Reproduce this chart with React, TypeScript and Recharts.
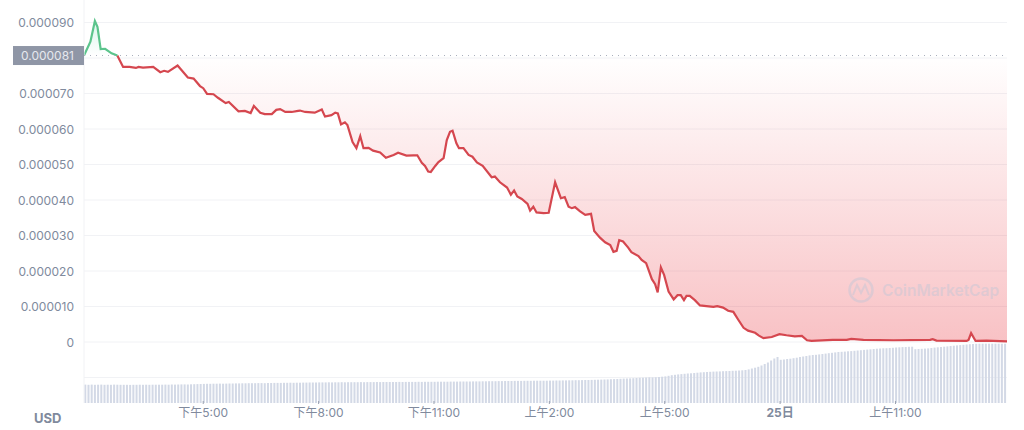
import React from "react";
import {
  ComposedChart,
  Area,
  Bar,
  XAxis,
  YAxis,
  CartesianGrid,
  ReferenceLine,
} from "recharts";

// minutes after the start of the window (13:54)
const minutes = [
  0, 10, 17, 21, 26, 33, 43, 52, 61, 71, 81, 85, 92, 108, 119, 125, 131, 146, 162, 171, 181, 186, 192, 202, 209, 221, 226, 241, 251, 260, 265, 275,
  282, 293, 300, 306, 314, 324, 334, 337, 345, 360, 371, 376, 386, 392, 396, 401, 407, 411, 419, 425, 431, 436, 444, 451, 462, 471, 483, 490, 503, 514,
  520, 527, 532, 537, 541, 548, 553, 561, 566, 571, 575, 581, 585, 592, 600, 606, 613, 622, 636, 641, 649, 660, 666, 671, 676, 683, 692, 696, 701, 706,
  717, 725, 735, 744, 750, 756, 761, 766, 774, 782, 791, 796, 805, 813, 821, 826, 831, 835, 841, 849, 854, 865, 870, 877, 886, 891, 895, 900, 905, 912,
  920, 926, 931, 936, 940, 945, 953, 961, 971, 982, 988, 997, 1005, 1013, 1021, 1029, 1036, 1047, 1053, 1060, 1073, 1085, 1096, 1109, 1120, 1128, 1135,
  1168, 1190, 1197, 1216, 1263, 1320, 1324, 1330, 1377, 1380, 1384, 1391, 1408, 1440,
];

// price in millionths of a USD
const prices = [
  80.7, 84.6, 90.4, 88.8, 82.5, 82.6, 81.3, 80.7, 77.5, 77.5, 77.2, 77.5, 77.3, 77.5, 76.0, 76.4, 76.1, 77.9, 74.5, 74.2, 72.1, 71.5, 69.9, 69.8, 68.8, 67.3, 67.6, 65.0, 65.1, 64.5, 66.5, 64.6,
  64.2, 64.2, 65.4, 65.6, 64.8, 64.8, 65.1, 65.2, 64.8, 64.6, 65.5, 63.5, 63.9, 64.6, 64.4, 61.3, 61.9, 61.1, 56.3, 54.6, 58.0, 54.6, 54.7, 53.9, 53.4, 51.9, 52.7, 53.3, 52.5, 52.6,
  52.6, 50.5, 49.6, 48.0, 47.9, 49.6, 50.7, 51.8, 56.9, 59.2, 59.5, 56.0, 54.6, 54.6, 52.7, 52.2, 50.6, 49.6, 46.4, 46.6, 45.0, 43.5, 41.5, 42.7, 41.0, 40.3, 38.9, 37.0, 38.1, 36.5,
  36.3, 36.4, 45.0, 40.5, 40.8, 38.1, 37.7, 38.0, 36.8, 35.8, 36.1, 31.3, 29.4, 28.1, 27.3, 25.4, 25.7, 28.7, 28.3, 26.6, 25.3, 24.2, 23.1, 22.2, 17.7, 16.3, 14.0, 21.0, 18.9, 14.2,
  12.0, 13.2, 13.2, 11.8, 13.0, 13.0, 11.8, 10.3, 10.1, 9.9, 10.1, 9.7, 8.8, 8.5, 6.2, 4.0, 3.2, 2.6, 1.8, 1.1, 1.4, 2.2, 1.9, 1.6, 1.7, 0.5, 0.3,
  0.6, 0.6, 0.9, 0.6, 0.5, 0.6, 0.8, 0.4, 0.3, 0.6, 2.5, 0.3, 0.4, 0.2,
];

const OPEN_PRICE = 80.7;
const GREEN_END = 52;

// one bar per 5 minutes, 12 per hour
const volumes = [
  18.4, 18.2, 18.4, 18.2, 18.3, 18.4, 18.2, 18.3, 18.2, 18.4, 18.3, 18.2,
  18.2, 18.2, 18.1, 18.2, 18.2, 18.3, 18.2, 18.3, 18.2, 18.3, 18.3, 18.3,
  18.3, 18.4, 18.3, 18.5, 18.4, 18.5, 18.6, 18.6, 18.5, 18.7, 18.8, 18.9,
  19.0, 19.1, 19.2, 19.2, 19.3, 19.3, 19.4, 19.3, 19.4, 19.5, 19.5, 19.6,
  19.6, 19.7, 19.7, 19.8, 19.8, 19.8, 19.9, 19.9, 19.8, 20.0, 20.0, 20.1,
  20.1, 20.1, 20.2, 20.2, 20.3, 20.2, 20.3, 20.3, 20.4, 20.4, 20.5, 20.5,
  20.5, 20.6, 20.6, 20.6, 20.7, 20.6, 20.7, 20.7, 20.8, 20.7, 20.8, 20.8,
  20.8, 20.8, 20.9, 20.8, 20.9, 20.9, 20.9, 21.0, 20.9, 21.0, 21.0, 21.0,
  21.0, 21.0, 21.1, 21.0, 21.1, 21.1, 21.1, 21.1, 21.2, 21.1, 21.2, 21.2,
  21.2, 21.2, 21.3, 21.3, 21.3, 21.3, 21.4, 21.4, 21.4, 21.5, 21.5, 21.5,
  21.5, 21.6, 21.6, 21.6, 21.7, 21.7, 21.8, 21.8, 21.8, 21.9, 21.9, 22.0,
  22.0, 22.0, 22.1, 22.1, 22.1, 22.2, 22.2, 22.2, 22.3, 22.3, 22.3, 22.3,
  22.3, 22.4, 22.4, 22.5, 22.5, 22.6, 22.6, 22.7, 22.7, 22.8, 22.8, 22.9,
  23.0, 23.0, 23.1, 23.2, 23.3, 23.4, 23.5, 23.6, 23.8, 23.9, 24.0, 24.2,
  24.4, 24.5, 24.6, 24.8, 25.0, 25.2, 25.3, 25.5, 25.7, 25.6, 25.8, 26.0,
  26.3, 26.6, 27.2, 27.8, 28.2, 28.6, 28.9, 29.2, 29.5, 29.7, 30.0, 30.3,
  30.6, 30.8, 31.0, 31.2, 31.4, 31.5, 31.6, 31.8, 31.9, 32.0, 32.2, 32.3,
  32.5, 32.7, 33.0, 33.6, 34.5, 35.3, 36.2, 37.5, 39.0, 40.5, 42.5, 44.5,
  46.0, 43.2, 43.5, 44.0, 44.3, 44.8, 45.3, 46.0, 46.5, 47.0, 47.6, 48.0,
  48.2, 48.6, 49.0, 49.4, 49.8, 50.2, 50.6, 51.0, 51.2, 51.4, 51.7, 51.9,
  52.2, 52.5, 52.8, 53.1, 53.4, 53.7, 54.0, 54.3, 54.5, 54.7, 54.8, 55.0,
  55.2, 55.5, 55.7, 55.9, 56.0, 56.2, 56.3, 53.8, 54.0, 54.2, 54.4, 54.6,
  55.0, 55.4, 55.7, 56.0, 56.3, 56.6, 57.0, 57.3, 57.6, 57.9, 58.2, 58.5,
  58.8, 59.0, 59.2, 59.3, 59.3, 59.3, 59.3, 59.3, 59.3, 59.3, 59.3, 59.3,
];

const priceTicks = [0, 10, 20, 30, 40, 50, 60, 70, 80.7, 90];
const gridValues = [-10, 0, 10, 20, 30, 40, 50, 60, 70, 80, 90];
const timeTicks = [186, 366, 546, 726, 906, 1086, 1266];
const timeLabels = ["下午5:00", "下午8:00", "下午11:00", "上午2:00", "上午5:00", "25日", "上午11:00"];

type Row = { t: number; green?: number; red?: number; volume?: number };
const rowsByTime = new Map<number, Row>();
const rowAt = (t: number): Row => {
  if (!rowsByTime.has(t)) rowsByTime.set(t, { t });
  return rowsByTime.get(t) as Row;
};
minutes.forEach((t, i) => {
  const row = rowAt(t);
  if (t <= GREEN_END) row.green = prices[i];
  if (t >= GREEN_END) row.red = prices[i];
});
volumes.forEach((v, i) => {
  rowAt(i * 5 + 2).volume = v;
});
const rows = Array.from(rowsByTime.values()).sort((a, b) => a.t - b.t);

const FONT = "Inter, 'Noto Sans CJK SC', sans-serif";

const PriceTick = (props: any) => {
  const { x, y, payload } = props;
  const v = payload.value;
  if (v === OPEN_PRICE) {
    return (
      <g>
        <rect x={13} y={y - 9.5} width={71} height={19} fill="#8f96a6" />
        <text x={x} y={y + 4.5} textAnchor="end" fontSize={12} fontFamily={FONT} fill="#e6e8ee">
          {(v / 1e6).toFixed(6)}
        </text>
      </g>
    );
  }
  return (
    <text x={x} y={y + 4.5} textAnchor="end" fontSize={12} fontFamily={FONT} fill="#808a9d">
      {v === 0 ? "0" : (v / 1e6).toFixed(6)}
    </text>
  );
};

const TimeTick = (props: any) => {
  const { x, y, payload, index } = props;
  const label = timeLabels[index] ?? timeLabels[timeTicks.indexOf(payload.value)];
  const isDay = label === "25日";
  return (
    <g>
      <line x1={x} x2={x} y1={y - 8} y2={y - 5} stroke="#9aa1b0" strokeWidth={1} />
      <text
        x={x}
        y={y + 8}
        textAnchor="middle"
        fontSize={12}
        fontWeight={isDay ? 700 : 400}
        fontFamily={FONT}
        fill="#808a9d"
      >
        {label}
      </text>
    </g>
  );
};

const VolumeBar = (props: any) => {
  const { x, y, width, height } = props;
  if (!height || height <= 0) return null;
  return <rect x={x + width / 2 - 1} y={y} width={2} height={height} fill="#d3d9e6" />;
};

export default function App() {
  return (
    <div style={{ position: "absolute", left: 0, top: 0, width: 1024, height: 430, background: "#fff" }}>
      <ComposedChart
        width={1024}
        height={430}
        data={rows}
        margin={{ top: 0, right: 17, bottom: 0, left: 0 }}
      >
        <defs>
          <linearGradient id="redFill" x1="0" y1="0" x2="0" y2="1">
            <stop offset="0%" stopColor="#ea3943" stopOpacity={0} />
            <stop offset="100%" stopColor="#ea3943" stopOpacity={0.31} />
          </linearGradient>
          <linearGradient id="greenFill" x1="0" y1="0" x2="0" y2="1">
            <stop offset="0%" stopColor="#16c784" stopOpacity={0.16} />
            <stop offset="100%" stopColor="#16c784" stopOpacity={0} />
          </linearGradient>
        </defs>
        <CartesianGrid vertical={false} stroke="#f1f2f5" horizontalValues={gridValues} yAxisId="price" />
        <XAxis
          dataKey="t"
          type="number"
          domain={[0, 1440]}
          ticks={timeTicks}
          interval={0}
          height={27}
          axisLine={false}
          tickLine={false}
          tickMargin={0}
          tick={<TimeTick />}
        />
        <YAxis
          yAxisId="price"
          width={84}
          domain={[-17.18, 96.34]}
          allowDataOverflow
          ticks={priceTicks}
          interval={0}
          axisLine={false}
          tickLine={false}
          tickSize={0}
          tickMargin={10}
          tick={<PriceTick />}
        />
        <YAxis yAxisId="vol" hide domain={[0, 403]} allowDataOverflow />
        <ReferenceLine yAxisId="price" x={0} stroke="#f1f2f5" />
        <Bar yAxisId="vol" dataKey="volume" shape={<VolumeBar />} fill="#d3d9e6" isAnimationActive={false} />
        <Area
          yAxisId="price"
          type="linear"
          dataKey="red"
          baseValue={OPEN_PRICE}
          connectNulls
          stroke="#d5474f"
          strokeWidth={2.2}
          fill="url(#redFill)"
          fillOpacity={1}
          dot={false}
          activeDot={false}
          isAnimationActive={false}
        />
        <Area
          yAxisId="price"
          type="linear"
          dataKey="green"
          baseValue={OPEN_PRICE}
          connectNulls
          stroke="#5cc48c"
          strokeWidth={2.2}
          fill="url(#greenFill)"
          fillOpacity={1}
          dot={false}
          activeDot={false}
          isAnimationActive={false}
        />
        <ReferenceLine yAxisId="price" y={OPEN_PRICE} stroke="#a9afbc" strokeDasharray="1 5" strokeWidth={1} />
      </ComposedChart>
      <div
        style={{
          position: "absolute",
          left: 34,
          top: 410,
          fontFamily: FONT,
          fontSize: 13,
          fontWeight: 700,
          color: "#808a9d",
          lineHeight: "16px",
        }}
      >
        USD
      </div>
      <svg width={1024} height={430} style={{ position: "absolute", left: 0, top: 0, pointerEvents: "none" }}>
        <g opacity={0.4}>
          <circle cx={861} cy={290} r={11.5} fill="none" stroke="#b9c6d8" strokeWidth={2.5} />
          <path d="M853 295 L857 285 L861 293 L865 285 L869 295" fill="none" stroke="#b9c6d8" strokeWidth={2} />
          <text x={882} y={296} fontSize={15.5} fontWeight={600} fontFamily={FONT} fill="#b9c6d8">
            CoinMarketCap
          </text>
        </g>
      </svg>
    </div>
  );
}
